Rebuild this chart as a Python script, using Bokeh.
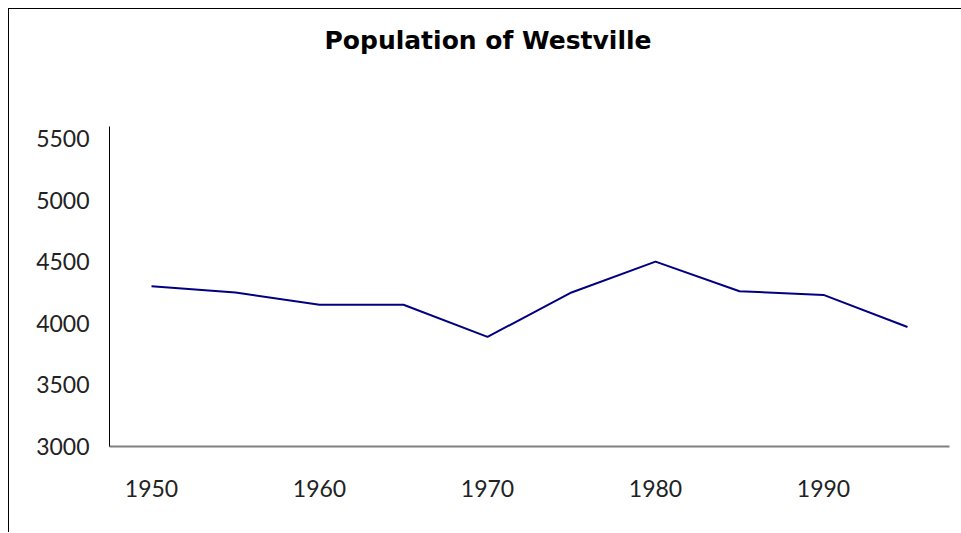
from bokeh.plotting import figure
from bokeh.models import Range1d, FixedTicker, Div
from bokeh.layouts import column
from bokeh.embed import file_html
from bokeh.resources import INLINE

years = [1950, 1955, 1960, 1965, 1970, 1975, 1980, 1985, 1990, 1995]
population = [4300, 4250, 4150, 4150, 3890, 4250, 4500, 4260, 4230, 3970]
x_ticks = [1950, 1960, 1970, 1980, 1990]
y_ticks = [3000, 3500, 4000, 4500, 5000, 5500]
title_text = "Population of Westville"

W = 952
TOP = 87
H = 426

header = Div(
    text=('<div style="margin-top:12px; margin-left:1px; width:946px; '
          'text-align:center; font-family:\'DejaVu Sans\'; font-size:25px; '
          'font-weight:bold; line-height:29px; color:#000000;">'
          + title_text + '</div>'),
    width=W, height=TOP)

p = figure(width=W, height=H, output_backend="svg", toolbar_location=None,
           x_range=Range1d(1947.5, 1997.5), y_range=Range1d(3000, 5597),
           min_border_left=100, min_border_right=12, min_border_top=20,
           min_border_bottom=86)
p.outline_line_color = None
p.xgrid.visible = False
p.ygrid.visible = False

p.line(years, population, line_color="#000080", line_width=2)

for ax in (p.xaxis, p.yaxis):
    ax.major_tick_line_color = None
    ax.minor_tick_line_color = None
    ax.major_label_text_font = "Lato"
    ax.major_label_text_font_size = "23px"
    ax.major_label_text_color = "#222222"

p.xaxis.ticker = FixedTicker(ticks=x_ticks)
p.yaxis.ticker = FixedTicker(ticks=y_ticks)
p.xaxis.axis_line_color = "#808080"
p.xaxis.axis_line_width = 2
p.xaxis.major_label_standoff = 27
p.yaxis.axis_line_color = "#000000"
p.yaxis.axis_line_width = 1
p.yaxis.major_label_standoff = 14

layout = column(header, p, spacing=0)
layout.styles = {"border-top": "1px solid black", "border-left": "1px solid black",
                 "margin-left": "8px", "margin-top": "8px"}

open("out.html", "w").write(file_html(layout, INLINE))
